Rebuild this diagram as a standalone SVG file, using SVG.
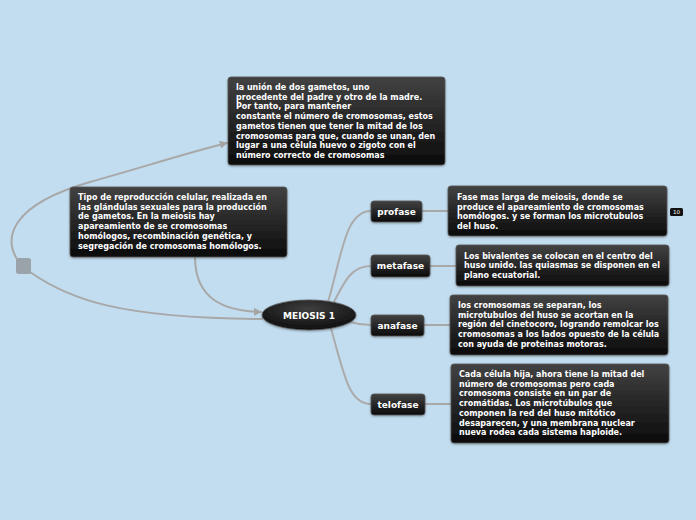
<svg xmlns="http://www.w3.org/2000/svg" width="696" height="520" viewBox="0 0 696 520">
<defs>
<linearGradient id="g" x1="0" y1="0" x2="0" y2="1">
<stop offset="0" stop-color="#424242"/>
<stop offset="1" stop-color="#0b0b0b"/>
</linearGradient>
<radialGradient id="ge" cx="0.5" cy="0.3" r="0.7">
<stop offset="0" stop-color="#3e3e3e"/>
<stop offset="1" stop-color="#0e0e0e"/>
</radialGradient>
<filter id="sh" x="-10%" y="-10%" width="120%" height="130%">
<feDropShadow dx="0" dy="1" stdDeviation="1" flood-color="#000" flood-opacity="0.35"/>
</filter>
<marker id="arr" viewBox="0 0 10 10" refX="9" refY="5" markerWidth="8" markerHeight="8" orient="auto" markerUnits="userSpaceOnUse">
<path d="M0,0 L10,5 L0,10 z" fill="#a5a5a5"/>
</marker>
</defs>
<style>
.box{fill:url(#g);stroke:#555;stroke-width:0.8;filter:url(#sh)}
.t{font-family:"DejaVu Sans",Verdana,sans-serif;font-weight:bold;font-size:8px;fill:#fff}
.tp{font-family:"DejaVu Sans",Verdana,sans-serif;font-weight:bold;font-size:9px;fill:#fff;text-anchor:middle}
.c{fill:none;stroke:#a8a8a8;stroke-width:2;stroke-linecap:round}
.cb{fill:none;stroke:#ababab;stroke-width:2;stroke-linecap:round}
</style>
<rect width="696" height="520" fill="#c2ddf0"/>
<g id="connectors">
<path class="c" d="M17 259 C4 238 10 205 90 182 C140 168 190 152 227 143" marker-end="url(#arr)"/>
<path class="c" d="M30 272 C70 300 120 318 262 319"/>
<path class="c" d="M195 257 C195 300 225 311 261 312" marker-end="url(#arr)"/>
<path class="cb" d="M328 302 C342 255 345 211 371 211"/>
<path class="cb" d="M334 302 C345 280 352 266 371 266"/>
<path class="cb" d="M350 322 C360 325 365 325 371 325"/>
<path class="cb" d="M331 328 C345 380 350 404 371 404"/>
<path class="c" d="M422 211 H448"/>
<path class="c" d="M430 266 H456"/>
<path class="c" d="M424 325 H450"/>
<path class="c" d="M425 404 H451"/>
</g>
<g id="root-handle"><rect x="16" y="258" width="15" height="16" rx="2.5" fill="#9aa3aa"/></g>
<g id="top-note">
<rect class="box" x="228" y="77" width="217" height="88" rx="3"/>
<text class="t" x="236" y="90">la unión de dos gametos, uno</text>
<text class="t" x="236" y="99.7">procedente del padre y otro de la madre.</text>
<text class="t" x="236" y="109.4">Por tanto, para mantener</text>
<text class="t" x="236" y="119.1">constante el número de cromosomas, estos</text>
<text class="t" x="236" y="128.8">gametos tienen que tener la mitad de los</text>
<text class="t" x="236" y="138.5">cromosomas para que, cuando se unan, den</text>
<text class="t" x="236" y="148.2">lugar a una célula huevo o zigoto con el</text>
<text class="t" x="236" y="157.9">número correcto de cromosomas</text>
</g>
<g id="left-note">
<rect class="box" x="70" y="187" width="217" height="70" rx="3"/>
<text class="t" x="78" y="200">Tipo de reproducción celular, realizada en</text>
<text class="t" x="78" y="209.7">las glándulas sexuales para la producción</text>
<text class="t" x="78" y="219.4">de gametos. En la meiosis hay</text>
<text class="t" x="78" y="229.1">apareamiento de se cromosomas</text>
<text class="t" x="78" y="238.8">homólogos, recombinación genética, y</text>
<text class="t" x="78" y="248.5">segregación de cromosomas homólogos.</text>
</g>
<g id="meiosis">
<ellipse cx="309" cy="315" rx="47" ry="15" fill="url(#ge)" stroke="#555" stroke-width="0.8" filter="url(#sh)"/>
<text class="tp" x="309" y="318.5">MEIOSIS 1</text>
</g>
<g id="profase">
<rect class="box" x="371" y="201" width="51" height="21" rx="3"/>
<text class="tp" x="396.5" y="214.5">profase</text>
</g>
<g id="metafase">
<rect class="box" x="371" y="255" width="59" height="22" rx="3"/>
<text class="tp" x="400.5" y="269">metafase</text>
</g>
<g id="anafase">
<rect class="box" x="371" y="315" width="53" height="21" rx="3"/>
<text class="tp" x="397.5" y="328.5">anafase</text>
</g>
<g id="telofase">
<rect class="box" x="371" y="394" width="54" height="21" rx="3"/>
<text class="tp" x="398" y="407.5">telofase</text>
</g>
<g id="profase-note">
<rect class="box" x="448" y="186" width="219" height="50" rx="3"/>
<text class="t" x="457" y="200">Fase mas larga de meiosis, donde se</text>
<text class="t" x="457" y="209.7">produce el apareamiento de cromosomas</text>
<text class="t" x="457" y="219.4">homólogos. y se forman los microtubulos</text>
<text class="t" x="457" y="229.1">del huso.</text>
</g>
<g id="badge">
<rect x="670" y="208" width="13" height="8" rx="1.5" fill="#111"/>
<text x="676.5" y="214.2" font-family="DejaVu Sans,sans-serif" font-size="5.5" fill="#fff" text-anchor="middle">10</text>
</g>
<g id="metafase-note">
<rect class="box" x="456" y="245" width="213" height="41" rx="3"/>
<text class="t" x="464" y="258.5">Los bivalentes se colocan en el centro del</text>
<text class="t" x="464" y="268.2">huso unido. las quiasmas se disponen en el</text>
<text class="t" x="464" y="277.9">plano ecuatorial.</text>
</g>
<g id="anafase-note">
<rect class="box" x="450" y="295" width="218" height="60" rx="3"/>
<text class="t" x="458" y="308">los cromosomas se separan, los</text>
<text class="t" x="458" y="317.7">microtubulos del huso se acortan en la</text>
<text class="t" x="458" y="327.4">región del cinetocoro, logrando remolcar los</text>
<text class="t" x="458" y="337.1">cromosomas a los lados opuesto de la célula</text>
<text class="t" x="458" y="346.8">con ayuda de proteinas motoras.</text>
</g>
<g id="telofase-note">
<rect class="box" x="451" y="364" width="218" height="79" rx="3"/>
<text class="t" x="459" y="377">Cada célula hija, ahora tiene la mitad del</text>
<text class="t" x="459" y="386.7">número de cromosomas pero cada</text>
<text class="t" x="459" y="396.4">cromosoma consiste en un par de</text>
<text class="t" x="459" y="406.1">cromátidas. Los microtúbulos que</text>
<text class="t" x="459" y="415.8">componen la red del huso mitótico</text>
<text class="t" x="459" y="425.5">desaparecen, y una membrana nuclear</text>
<text class="t" x="459" y="435.2">nueva rodea cada sistema haploide.</text>
</g>
</svg>
